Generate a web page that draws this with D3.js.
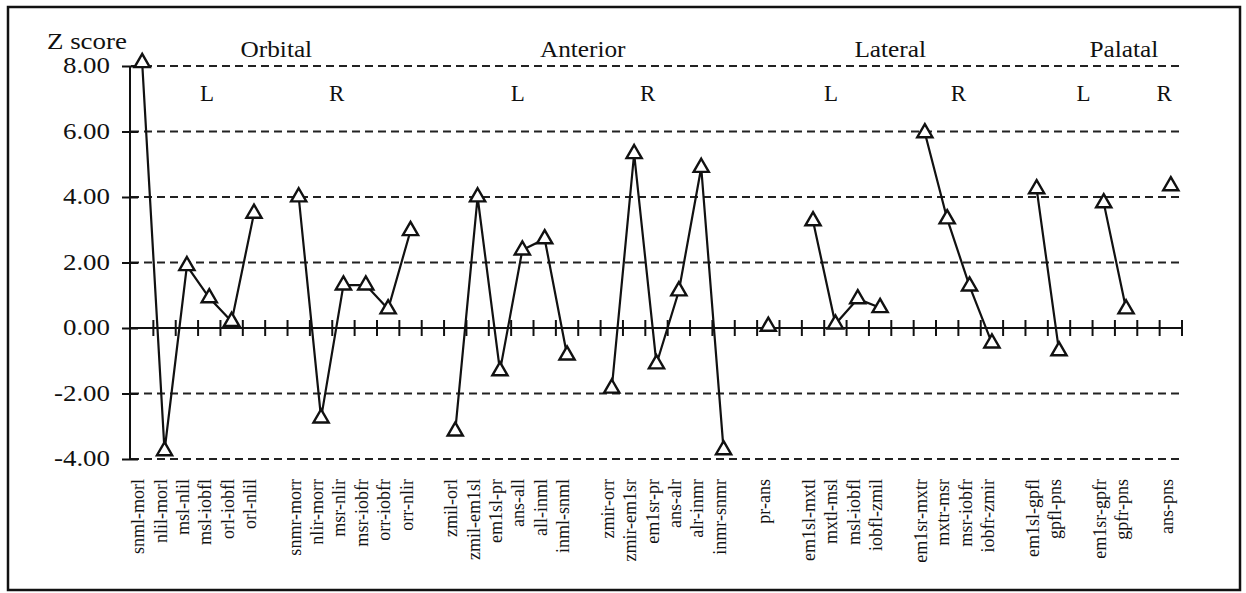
<!DOCTYPE html>
<html>
<head>
<meta charset="utf-8">
<script src="https://cdn.jsdelivr.net/npm/d3@7"></script>
<style>
  body { margin: 0; background: #fff; }
  svg text { font-family: "Liberation Serif", "Times New Roman", serif; fill: #111; }
</style>
</head>
<body>
<div id="chart"></div>
<script>
// slots along the x axis, "" = empty gap between groups
var slotLabels = ["snml-morl", "nlil-morl", "msl-nlil", "msl-iobfl", "orl-iobfl", "orl-nlil", "",
    "snmr-morr", "nlir-morr", "msr-nlir", "msr-iobfr", "orr-iobfr", "orr-nlir", "",
    "zmil-orl", "zmil-em1sl", "em1sl-pr", "ans-all", "all-inml", "inml-snml", "",
    "zmir-orr", "zmir-em1sr", "em1sr-pr", "ans-alr", "alr-inmr", "inmr-snmr", "",
    "pr-ans", "",
    "em1sl-mxtl", "mxtl-msl", "msl-iobfl", "iobfl-zmil", "",
    "em1sr-mxtr", "mxtr-msr", "msr-iobfr", "iobfr-zmir", "",
    "em1sl-gpfl", "gpfl-pns", "",
    "em1sr-gpfr", "gpfr-pns", "",
    "ans-pns"];

var zScores = [8.1, -3.75, 1.9, 0.92, 0.2, 3.5, null,
    4.0, -2.75, 1.31, 1.31, 0.58, 2.97, null,
    -3.15, 4.0, -1.31, 2.38, 2.72, -0.83, null,
    -1.84, 5.32, -1.1, 1.13, 4.9, -3.72, null,
    0.05, null,
    3.27, 0.12, 0.89, 0.62, null,
    5.96, 3.33, 1.28, -0.46, null,
    4.25, -0.7, null,
    3.82, 0.58, null,
    4.34];

var yTicks = [8, 6, 4, 2, 0, -2, -4];
var groupNames = ["Orbital", "Anterior", "Lateral", "Palatal"];
var sideNames = ["L", "R", "L", "R", "L", "R", "L", "R"];

// where the headings sit, in slot units
var groupAt = [6.0, 19.7, 33.45, 43.9];
var sideAt = [2.9, 8.7, 16.8, 22.6, 30.8, 36.5, 42.1, 45.7];

var svgWidth = 1246, svgHeight = 593;
var svg = d3.select("#chart").append("svg")
    .attr("width", svgWidth)
    .attr("height", svgHeight);

// frame
svg.append("rect")
    .attr("x", 8).attr("y", 7)
    .attr("width", 1232).attr("height", 583)
    .attr("fill", "none")
    .attr("stroke", "#111")
    .attr("stroke-width", 2.5);

var x = d3.scaleBand()
    .domain(d3.range(slotLabels.length))
    .range([131, 1182])
    .padding(0);

var y = d3.scaleLinear()
    .domain([-4, 8])
    .range([459, 66]);

var cx = function(i) { return x(i) + x.bandwidth() / 2; };
var slotX = function(s) { return x(0) + x.step() * (s + 0.5); };

// wide text: put it in a group scaled horizontally around its anchor
function wideText(parent, tx, ty, k, size, anchor, str) {
    var g = parent.append("g")
        .attr("transform", "translate(" + tx + "," + ty + ") scale(" + k + ",1)");
    return g.append("text")
        .attr("text-anchor", anchor)
        .attr("font-size", size)
        .text(str);
}

// dashed grid
svg.append("g").selectAll("line")
    .data(yTicks.filter(function(d) { return d !== 0; }))
    .enter().append("line")
    .attr("x1", 131).attr("x2", 1180)
    .attr("y1", function(d) { return y(d); })
    .attr("y2", function(d) { return y(d); })
    .attr("stroke", "#222")
    .attr("stroke-width", 2)
    .attr("stroke-dasharray", "8,5");

// y axis (ticks only, labels drawn wide below)
var leftAxis = d3.axisLeft(y)
    .tickValues(yTicks)
    .tickFormat("")
    .tickSize(8);

var yAxis = svg.append("g")
    .attr("transform", "translate(130,0)")
    .call(leftAxis);
yAxis.select(".domain").remove();
yAxis.append("line")
    .attr("x1", 0).attr("x2", 0)
    .attr("y1", y(8)).attr("y2", y(-4))
    .attr("stroke", "#111").attr("stroke-width", 2);
yAxis.selectAll(".tick line")
    .attr("x1", -8).attr("x2", 8)
    .attr("stroke", "#111").attr("stroke-width", 2);

var yLabels = svg.append("g");
yTicks.forEach(function(t) {
    wideText(yLabels, 110, y(t) + 7, 1.17, 23, "end", t.toFixed(2));
});

// zero line with slot ticks
svg.append("line")
    .attr("x1", 130).attr("x2", 1183)
    .attr("y1", y(0)).attr("y2", y(0))
    .attr("stroke", "#111").attr("stroke-width", 2);

svg.append("g").selectAll("line")
    .data(d3.range(1, slotLabels.length + 1))
    .enter().append("line")
    .attr("x1", function(i) { return x(0) + i * x.step(); })
    .attr("x2", function(i) { return x(0) + i * x.step(); })
    .attr("y1", y(0) - 8).attr("y2", y(0) + 8)
    .attr("stroke", "#111").attr("stroke-width", 2);

// x labels, rotated
svg.append("g").selectAll("text")
    .data(slotLabels.map(function(d, i) { return { label: d, i: i }; })
        .filter(function(d) { return d.label !== ""; }))
    .enter().append("text")
    .attr("transform", function(d) { return "translate(" + (cx(d.i) + 2) + ",479) rotate(-90)"; })
    .attr("text-anchor", "end")
    .attr("font-size", 18)
    .text(function(d) { return d.label; });

// lines, broken at the gaps
var line = d3.line()
    .defined(function(d) { return d != null; })
    .x(function(d, i) { return cx(i); })
    .y(function(d) { return y(d); });

svg.append("path")
    .datum(zScores)
    .attr("d", line)
    .attr("fill", "none")
    .attr("stroke", "#111")
    .attr("stroke-width", 2.2);

// triangle markers
var tri = d3.symbol().type(d3.symbolTriangle).size(100);
svg.append("g").selectAll("path")
    .data(zScores.map(function(d, i) { return { v: d, i: i }; })
        .filter(function(d) { return d.v != null; }))
    .enter().append("path")
    .attr("d", tri)
    .attr("transform", function(d) { return "translate(" + cx(d.i) + "," + y(d.v) + ")"; })
    .attr("fill", "#fff")
    .attr("stroke", "#111")
    .attr("stroke-width", 2.4);

// headings
var heads = svg.append("g");
wideText(heads, 47, 49, 1.17, 23, "start", "Z score");
groupNames.forEach(function(name, i) {
    wideText(heads, slotX(groupAt[i]), 57, 1.1, 23, "middle", name);
});
sideNames.forEach(function(name, i) {
    wideText(heads, slotX(sideAt[i]), 101, 1, 23, "middle", name);
});
</script>
</body>
</html>
